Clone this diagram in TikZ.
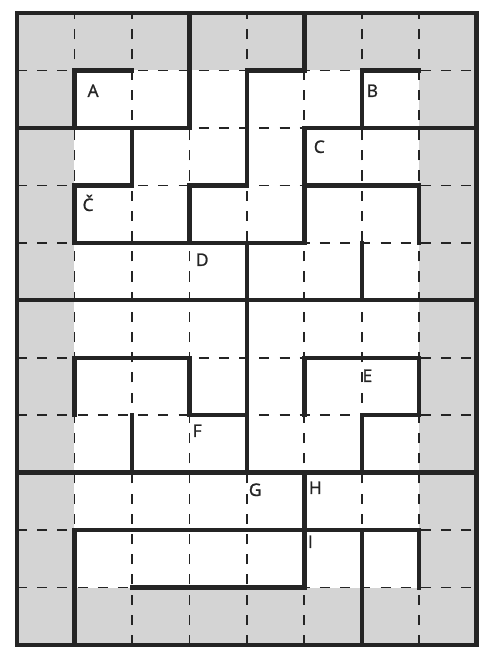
\documentclass[tikz,border=0pt]{standalone}
\usepackage{fontspec}
\setmainfont{Open Sans}
\newfontfamily\lblfont{Open Sans}[FakeBold=1.2]
\usepackage{xcolor}
\usepackage{tikz}

\definecolor{scangray}{gray}{0.83}
\definecolor{ink}{gray}{0.14}

\tikzset{
  wall/.style={ink, line width=2.2pt, line cap=rect, line join=miter},
  lbl/.style={font=\lblfont\fontsize{8.6}{10}\selectfont, text=ink, anchor=base, inner sep=0pt}
}

\begin{document}
\begin{tikzpicture}
\useasboundingbox (-0.296,-0.052) rectangle (8.077,11.226);
% shading and grid
\fill[scangray] (0,0) rectangle (8,11);
\fill[white] (1,1) rectangle (7,10);
\draw[step=1cm, ink, line width=0.8pt, dash pattern=on 5pt off 5pt] (0,0) grid (8,11);
% frame and panels
\draw[wall] (0,0) rectangle (8,11);
\draw[wall] (0,6) -- (8,6);
\draw[wall] (0,3) -- (8,3);
% upper panel
\draw[wall] (2,10) -- (1,10) -- (1,9);
\draw[wall] (0,9) -- (3,9) -- (3,11);
\draw[wall] (4,8) -- (4,10) -- (5,10) -- (5,11);
\draw[wall] (7,10) -- (6,10) -- (6,9);
\draw[wall] (5,9) -- (8,9);
\draw[wall] (5,9) -- (5,7);
\draw[wall] (2,9) -- (2,8) -- (1,8) -- (1,7) -- (5,7);
\draw[wall] (4,8) -- (3,8) -- (3,7);
\draw[wall] (5,8) -- (7,8) -- (7,7);
\draw[wall] (4,7) -- (4,6);
\draw[wall] (6,7) -- (6,6);
% middle panel
\draw[wall] (4,6) -- (4,3);
\draw[wall] (1,4) -- (1,5) -- (3,5) -- (3,4) -- (4,4);
\draw[wall] (2,4) -- (2,3);
\draw[wall] (5,4) -- (5,5) -- (7,5) -- (7,4) -- (6,4) -- (6,3);
% lower panel
\draw[wall] (5,3) -- (5,2);
\draw[wall] (1,0) -- (1,2) -- (7,2) -- (7,1);
\draw[wall] (2,1) -- (5,1) -- (5,2);
\draw[wall] (6,0) -- (6,2);
% labels
\node[lbl] (labA) at (1.324,9.538) {A};
\node[lbl] (labB) at (6.185,9.538) {B};
\node[lbl] (labC) at (5.261,8.564) {C};
\node[lbl] (labCc) at (1.237,7.554) {Č};
\node[lbl] (labD) at (3.223,6.597) {D};
\node[lbl] (labE) at (6.098,4.578) {E};
\node[lbl] (labF) at (3.136,3.621) {F};
\node[lbl] (labG) at (4.146,2.594) {G};
\node[lbl] (labH) at (5.192,2.629) {H};
\node[lbl] (labI) at (5.105,1.689) {I};
\end{tikzpicture}
\end{document}
